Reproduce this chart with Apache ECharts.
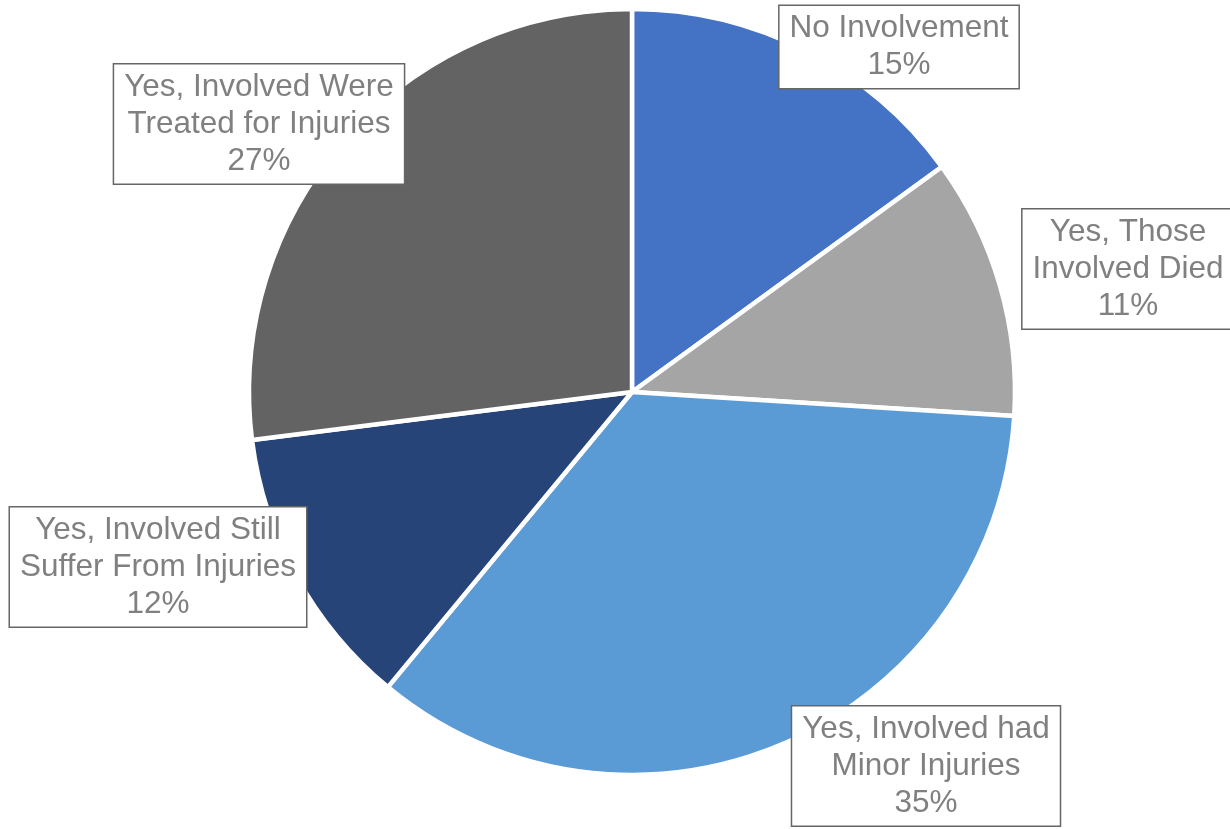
<!DOCTYPE html>
<html>
<head>
<meta charset="utf-8">
<script src="https://cdn.jsdelivr.net/npm/echarts@6/dist/echarts.min.js"></script>
<style>html,body{margin:0;padding:0;background:#fff}#c{width:1230px;height:829px}</style>
</head>
<body>
<div id="c"></div>
<script>
const categories = [
  'No Involvement',
  'Yes, Those\nInvolved Died',
  'Yes, Involved had\nMinor Injuries',
  'Yes, Involved Still\nSuffer From Injuries',
  'Yes, Involved Were\nTreated for Injuries'
];
const values = [15, 11, 35, 12, 27];
const colors = ['#4472C4', '#A5A5A5', '#5B9BD5', '#264478', '#636363'];

// label box centres (layout, not data)
const labelPos = [[899, 47], [1128, 269], [926, 766], [158, 567], [259, 124]];

const chart = echarts.init(document.getElementById('c'), null, {renderer: 'canvas'});
chart.setOption({
  animation: false,
  series: [{
    type: 'pie',
    center: [632, 392],
    radius: [0, 383],
    startAngle: 90,
    clockwise: true,
    avoidLabelOverlap: false,
    data: categories.map((n, i) => ({name: n, value: values[i], itemStyle: {color: colors[i]}})),
    itemStyle: {borderColor: '#ffffff', borderWidth: 4.5},
    label: {
      show: true,
      formatter: '{b}\n{d}%',
      fontFamily: 'Liberation Sans, Arial, sans-serif',
      fontSize: 31.5,
      lineHeight: 37,
      color: '#808080',
      align: 'center',
      backgroundColor: '#ffffff',
      borderColor: '#666666',
      borderWidth: 1.5,
      padding: [4, 10, 4, 10]
    },
    labelLine: {show: false},
    labelLayout: function (p) {
      const pos = labelPos[p.dataIndex];
      return {x: pos[0], y: pos[1], align: 'center', verticalAlign: 'middle'};
    },
    emphasis: {disabled: true}
  }]
});
</script>
</body>
</html>
